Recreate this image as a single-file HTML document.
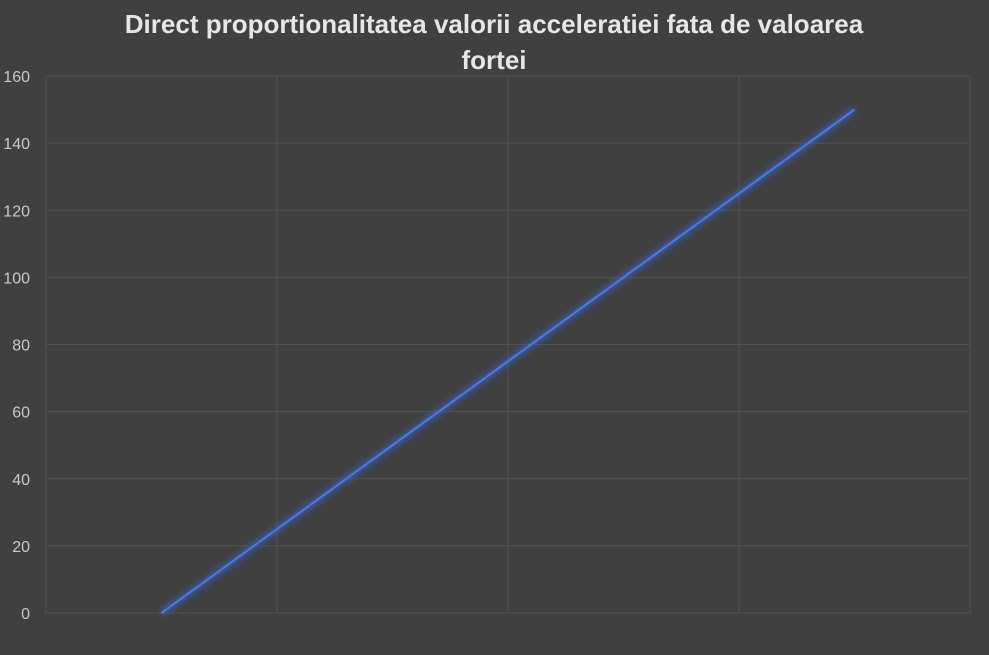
<!DOCTYPE html>
<html><head><meta charset="utf-8"><style>
body{margin:0;background:#404040;}
svg{display:block;}
.t{font-family:"Liberation Sans",sans-serif;font-weight:bold;font-size:26px;fill:#e6e6e6;}
.tk{font-family:"Liberation Sans",sans-serif;font-size:16px;fill:#c8c8c8;}
</style></head><body>
<svg id="c" width="989" height="655">
<defs><filter id="glow" x="-10%" y="-10%" width="120%" height="120%"><feGaussianBlur stdDeviation="3"/></filter></defs>
<rect width="989" height="655" fill="#404040"/>
<text class="t" x="494" y="33" text-anchor="middle">Direct proportionalitatea valorii acceleratiei fata de valoarea</text>
<text class="t" x="494" y="69" text-anchor="middle">fortei</text>
<g id="grid"></g><g id="ticks"></g><g id="series"></g>
</svg>
<script>
const categories=["1","2","3","4"];
const values=[0,50,100,150];
const yTicks=[0,20,40,60,80,100,120,140,160];
const X0=46,X1=970,Y0=613,Y1=76,YMAX=160;
const bw=(X1-X0)/categories.length;
const xs=i=>X0+bw*(i+0.5);
const ys=v=>Y0-(v/YMAX)*(Y0-Y1);
const ns="http://www.w3.org/2000/svg";
const g=document.getElementById('grid'),tk=document.getElementById('ticks'),s=document.getElementById('series');
yTicks.forEach(v=>{
 const l=document.createElementNS(ns,'line');
 l.setAttribute('x1',X0);l.setAttribute('x2',X1);l.setAttribute('y1',ys(v));l.setAttribute('y2',ys(v));
 l.setAttribute('stroke','#525252');l.setAttribute('stroke-width','1');
 
 
 g.appendChild(l);
 const t=document.createElementNS(ns,'text');
 t.setAttribute('x',30);t.setAttribute('y',ys(v)+6);t.setAttribute('text-anchor','end');t.setAttribute('class','tk');
 t.textContent=v;
 
 
 tk.appendChild(t);
});
for(let i=0;i<=categories.length;i++){
 const l=document.createElementNS(ns,'line');
 const x=X0+bw*i;
 l.setAttribute('x1',x);l.setAttribute('x2',x);l.setAttribute('y1',Y1);l.setAttribute('y2',Y0);
 l.setAttribute('stroke','#525252');l.setAttribute('stroke-width','1');
 
 
 g.appendChild(l);
}
const pts=values.map((v,i)=>xs(i)+','+ys(v)).join(' ');
const glow=document.createElementNS(ns,'polyline');
glow.setAttribute('points',pts);glow.setAttribute('fill','none');glow.setAttribute('stroke','#3a5fc8');glow.setAttribute('stroke-width','8');glow.setAttribute('opacity','0.6');glow.setAttribute('filter','url(#glow)');


s.appendChild(glow);
const pl=document.createElementNS(ns,'polyline');
pl.setAttribute('points',pts);pl.setAttribute('fill','none');pl.setAttribute('stroke','#4a78d8');pl.setAttribute('stroke-width','2.2');


s.appendChild(pl);
</script>
</body></html>
